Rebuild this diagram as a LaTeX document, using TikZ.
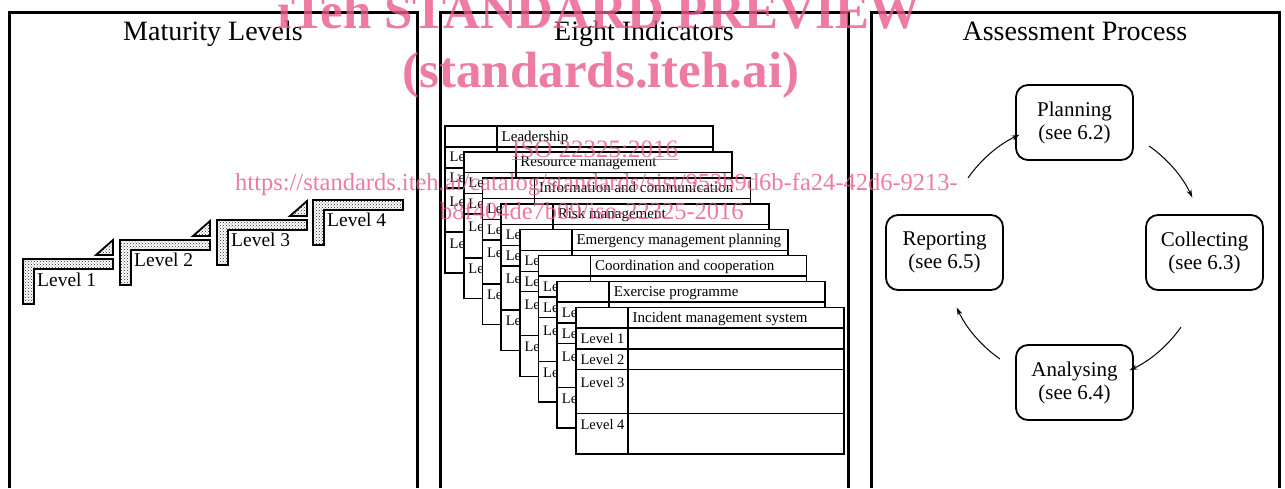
\documentclass[tikz,border=0pt]{standalone}
\usepackage{fontspec}
\setmainfont{Liberation Serif}
\usetikzlibrary{arrows.meta,patterns}
\definecolor{wm}{RGB}{232,90,140}
\begin{document}
\begin{tikzpicture}[x=1pt,y=1pt,
  panel/.style={line width=3pt},
  ttl/.style={anchor=base, inner sep=0pt, font=\fontsize{28}{32}\selectfont},
  stepshape/.style={draw, line width=1.8pt, line join=miter, pattern=crosshatch dots, pattern color=black!85},
  steplabel/.style={anchor=base west, inner sep=0pt, font=\fontsize{19.5}{22}\selectfont},
  tbl/.style={line width=1.6pt},
  hdr/.style={anchor=base west, inner xsep=4.5pt, inner ysep=0pt, font=\fontsize{15}{18}\selectfont},
  lvl/.style={anchor=base west, inner xsep=4.5pt, inner ysep=0pt, font=\fontsize{14.5}{17}\selectfont},
  pbox/.style={draw, line width=1.8pt, rounded corners=12pt, minimum width=117pt, minimum height=75pt, align=center, inner sep=0pt, font=\fontsize{21}{23}\selectfont},
  cycarrow/.style={line width=1pt, -{Stealth[length=8pt,width=5pt]}},
  wmtext/.style={text=wm, text opacity=0.8, inner sep=0pt},
  wmline/.style={draw=wm, draw opacity=0.8, line width=1.2pt}
]
\useasboundingbox (0,0) rectangle (1285,-488);

% panels
\draw[panel] (9,-488) -- (9,-12) -- (417,-12) -- (417,-488);
\draw[panel] (440,-488) -- (440,-12) -- (848,-12) -- (848,-488);
\draw[panel] (871,-488) -- (871,-12) -- (1279,-12) -- (1279,-488);
\node[ttl] (t1) at (213,-40) {Maturity Levels};
\node[ttl] (t2) at (644,-40) {Eight Indicators};
\node[ttl] (t3) at (1075,-40) {Assessment Process};

% maturity steps
\foreach \k/\sx/\sy in {1/23/259, 2/120/240, 3/217/220, 4/313/200}{
  \draw[stepshape] (\sx,-\sy) -- ++(90,0) -- ++(0,-10) -- ++(-79,0) -- ++(0,-35) -- ++(-11,0) -- cycle;
}
\foreach \sx/\sy in {23/259, 120/240, 217/220}{
  \draw[stepshape] ({\sx+73},{-\sy+4}) -- ({\sx+90},{-\sy+4}) -- ({\sx+90},{-\sy+19}) -- cycle;
}
\node[steplabel] (s1) at (37,-286) {Level 1};
\node[steplabel] (s2) at (134,-266.5) {Level 2};
\node[steplabel] (s3) at (231,-246) {Level 3};
\node[steplabel] (s4) at (327,-226) {Level 4};

% indicator tables
\foreach \i/\t in {0/Leadership,1/Resource management,2/Information and communication,3/Risk management,4/Emergency management planning,5/Coordination and cooperation,6/Exercise programme,7/Incident management system}{
  \begin{scope}[shift={({445+18.7*\i},{-126-25.9*\i})}]
    \draw[tbl, fill=white] (0,0) rectangle (268,-146.7);
    \draw[tbl] (52,0) -- (52,-146.7);
    \foreach \r in {20.7,41.7,62,106}{\draw[tbl] (0,-\r) -- (268,-\r);}
    \node[hdr] (h\i) at (52,-15) {\t};
    \node[lvl] (t\i-1) at (0,-35.7) {Level 1};
    \node[lvl] (t\i-2) at (0,-56.7) {Level 2};
    \node[lvl] (t\i-3) at (0,-80) {Level 3};
    \node[lvl] (t\i-4) at (0,-122) {Level 4};
  \end{scope}
}

% assessment cycle
\node[pbox] (plan) at (1074.5,-122.5) {Planning\\(see 6.2)};
\node[pbox] (coll) at (1204.5,-252.5) {Collecting\\(see 6.3)};
\node[pbox] (anal) at (1074.5,-382.5) {Analysing\\(see 6.4)};
\node[pbox] (repo) at (944.5,-252.5) {Reporting\\(see 6.5)};
\coordinate (cyc) at (1074.5,-252.5);
\draw[cycarrow] ([shift={(55:130)}]cyc) arc[start angle=55, end angle=25, radius=130pt];
\draw[cycarrow] ([shift={(-35:130)}]cyc) arc[start angle=-35, end angle=-65, radius=130pt];
\draw[cycarrow] ([shift={(-125:130)}]cyc) arc[start angle=-125, end angle=-155, radius=130pt];
\draw[cycarrow] ([shift={(145:130)}]cyc) arc[start angle=145, end angle=115, radius=130pt];

% watermark
\node[wmtext, anchor=base, font=\fontsize{51}{56}\selectfont\bfseries] (wm1) at (599,-28) {iTeh STANDARD PREVIEW};
\node[wmtext, anchor=base, font=\fontsize{51}{56}\selectfont\bfseries] (wm2) at (601,-87) {(standards.iteh.ai)};
\node[wmtext, anchor=base west, font=\fontsize{25}{28}\selectfont] (wm3) at (512,-157) {ISO 22325:2016};
\draw[wmline] ([yshift=-2.5pt]wm3.base west) -- ([yshift=-2.5pt]wm3.base east);
\node[wmtext, anchor=base west, font=\fontsize{24.5}{28}\selectfont] (wm4) at (235,-190) {https://standards.iteh.ai/catalog/standards/sist/953b9d6b-fa24-42d6-9213-};
\node[wmtext, anchor=base west, font=\fontsize{24.5}{28}\selectfont] (wm5) at (440,-219) {b8f404de7b09/iso-22325-2016};
\end{tikzpicture}
\end{document}
